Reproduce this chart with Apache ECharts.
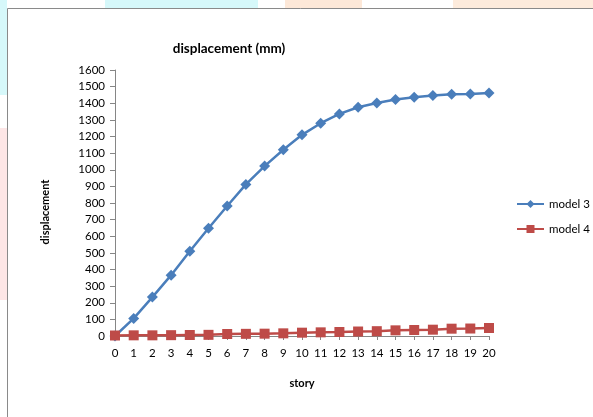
<!DOCTYPE html>
<html>
<head>
<meta charset="utf-8">
<script src="https://cdn.jsdelivr.net/npm/echarts@6/dist/echarts.min.js"></script>
<style>
  html, body { margin: 0; padding: 0; background: #fff; }
  #chart { width: 593px; height: 417px; }
</style>
</head>
<body>
<div id="chart"></div>
<script>
// Story numbers along the x axis
const stories = ['0','1','2','3','4','5','6','7','8','9','10','11','12','13','14','15','16','17','18','19','20'];

// Displacement per story (mm)
const model3 = [0, 106, 234, 366, 510, 648, 782, 912, 1022, 1120, 1210, 1280, 1336, 1376, 1402, 1422, 1436, 1446, 1454, 1456, 1462];
const model4 = [3, 4, 4, 5, 6, 7, 12, 13, 14, 16, 20, 22, 24, 27, 29, 34, 36, 38, 44, 45, 48];

const seriesNames = ['model 3', 'model 4'];

const FONT = 'Lato, "Open Sans", sans-serif';
const chart = echarts.init(document.getElementById('chart'), null, { renderer: 'canvas' });

chart.setOption({
  animation: false,
  backgroundColor: '#ffffff',
  textStyle: { fontFamily: FONT },
  graphic: [
    // pale page shapes around the chart frame
    { type: 'rect', shape: { x: 105, y: 0, width: 153, height: 8 }, style: { fill: '#d6f8fa' }, silent: true },
    { type: 'rect', shape: { x: 0, y: 0, width: 7, height: 95 }, style: { fill: '#d6f8fa' }, silent: true },
    { type: 'rect', shape: { x: 0, y: 128, width: 7, height: 172 }, style: { fill: '#fde6e6' }, silent: true },
    { type: 'rect', shape: { x: 285, y: 0, width: 77, height: 8 }, style: { fill: '#fde8d8' }, silent: true },
    { type: 'rect', shape: { x: 453, y: 0, width: 140, height: 8 }, style: { fill: '#fdebdc' }, silent: true },
    // chart frame
    { type: 'rect', shape: { x: 7.5, y: 8.5, width: 600, height: 420 },
      style: { fill: null, stroke: '#8a8a8a', lineWidth: 1 }, silent: true },
    // titles
    { type: 'text', x: 229, y: 49,
      style: { text: 'displacement (mm)', font: 'bold 13.5px ' + FONT, fill: '#000', align: 'center', verticalAlign: 'middle' } },
    { type: 'text', x: 45, y: 212, rotation: Math.PI / 2,
      style: { text: 'displacement', font: 'bold 11px ' + FONT, fill: '#000', align: 'center', verticalAlign: 'middle' } },
    { type: 'text', x: 302, y: 383,
      style: { text: 'story', font: 'bold 11px ' + FONT, fill: '#000', align: 'center', verticalAlign: 'middle' } }
  ],
  legend: {
    orient: 'vertical',
    left: 511,
    top: 193,
    padding: 5,
    itemWidth: 27,
    itemHeight: 10,
    itemGap: 13,
    textStyle: { fontSize: 11.5, color: '#000', fontFamily: FONT },
    data: seriesNames
  },
  grid: { left: 115, right: 104, top: 70, bottom: 81, containLabel: false },
  xAxis: {
    type: 'category',
    data: stories,
    boundaryGap: false,
    axisLine: { lineStyle: { color: '#868686', width: 1 } },
    axisTick: { alignWithLabel: true, length: 4, lineStyle: { color: '#868686' } },
    axisLabel: { color: '#000', fontSize: 11.5, margin: 11, interval: 0 },
    splitLine: { show: false }
  },
  yAxis: {
    type: 'value',
    min: 0,
    max: 1600,
    interval: 100,
    axisLine: { show: true, lineStyle: { color: '#868686', width: 1 } },
    axisTick: { show: true, length: 5, lineStyle: { color: '#868686' } },
    axisLabel: { color: '#000', fontSize: 11.5, margin: 10, formatter: v => String(v) },
    splitLine: { show: false }
  },
  series: [
    {
      name: seriesNames[0],
      type: 'line',
      data: model3,
      symbol: 'diamond',
      symbolSize: 11,
      itemStyle: { color: '#4a7ebb' },
      lineStyle: { color: '#4a7ebb', width: 2.5 },
      z: 3
    },
    {
      name: seriesNames[1],
      type: 'line',
      data: model4,
      symbol: 'rect',
      symbolSize: 10,
      itemStyle: { color: '#be4b48' },
      lineStyle: { color: '#be4b48', width: 2.5 },
      z: 4
    }
  ]
});
</script>
</body>
</html>
